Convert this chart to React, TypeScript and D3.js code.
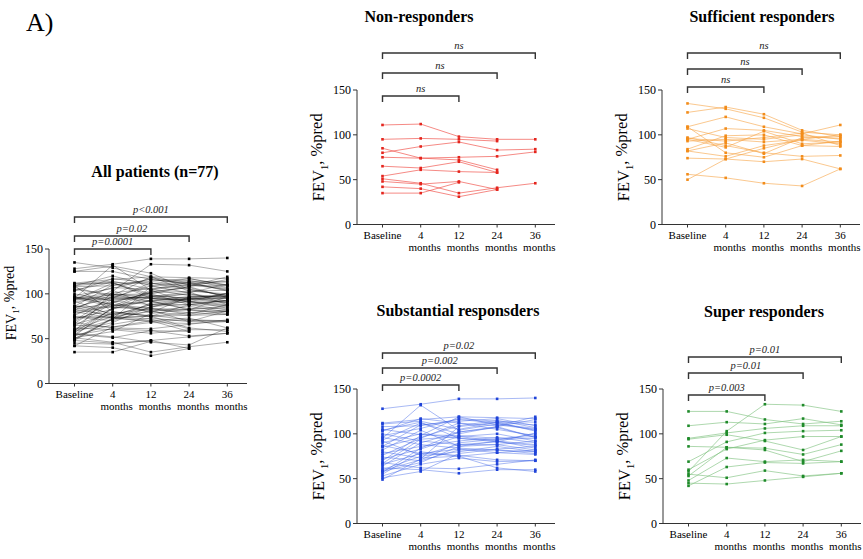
import React from 'react';
import * as d3 from 'd3';

// x categories and y ticks shared by every panel
const timepoints = ['Baseline', '4', '12', '24', '36'];
const yTicks = [0, 50, 100, 150];

// FEV1 %pred per patient: baseline, 4, 12, 24, 36 months (null = missing)
const nonResponders = [
  [111, 112, 98, 95, 95],
  [95, 96, 95, 93, null],
  [80, 87, 92, 83, 84],
  [85, 74, 72, 61, null],
  [75, 74, 75, 76, 81],
  [65, 63, 70, 58, null],
  [54, 61, 59, 58, null],
  [51, 46, 35, 41, 46],
  [48, 45, 48, 39, null],
  [42, 40, 31, 39, null],
  [35, 35, 47, null, null],
];

const sufficientResp = [
  [135, 129, 119, 103, 100],
  [125, 131, 123, 105, 98],
  [109, 120, 109, 101, 111],
  [107, 97, 95, 100, 95],
  [97, 88, 80, 76, 77],
  [95, 107, 105, 98, 96],
  [93, 95, 92, 95, 92],
  [96, 93, 97, 102, 88],
  [84, 99, 100, 88, 93],
  [82, 76, 88, 94, 90],
  [74, 73, 70, 73, 62],
  [56, 52, 46, 43, 62],
  [50, 73, 85, 95, 100],
  [109, 80, 75, 88, 87],
  [82, 91, 79, 97, 98],
  [95, 86, 104, 90, 92],
];

const substantialResp = [
  [128, 133, 139, 139, 140],
  [95, 132, 104, 111, 106],
  [112, 116, 119, 118, 117],
  [111, 114, 105, 113, 110],
  [108, 109, 116, 112, 104],
  [105, 99, 98, 95, 97],
  [103, 117, 112, 109, 119],
  [100, 92, 88, 91, 87],
  [98, 106, 117, 114, 113],
  [96, 88, 84, 82, 80],
  [93, 112, 100, 108, 96],
  [90, 100, 95, 93, 100],
  [87, 78, 76, 71, 70],
  [85, 96, 109, 115, 107],
  [82, 104, 86, 88, 82],
  [80, 73, 75, 62, 58],
  [78, 86, 92, 96, 90],
  [76, 95, 112, 105, 98],
  [74, 70, 82, 82, 78],
  [72, 83, 97, 92, 88],
  [70, 98, 119, 110, 105],
  [68, 62, 61, 66, 71],
  [66, 78, 83, 79, 82],
  [64, 90, 102, 107, 96],
  [62, 60, 56, 60, 60],
  [60, 75, 80, 86, 80],
  [59, 71, 90, 94, 95],
  [57, 84, 102, 108, 116],
  [55, 80, 75, 79, 77],
  [53, 66, 73, 69, 70],
  [51, 58, 78, 83, 86],
  [49, 72, 108, 113, 103],
  [104, 113, 95, 91, 101],
  [92, 76, 88, 88, 92],
  [67, 94, 97, 100, 92],
  [86, 110, 114, 117, 109],
  [58, 68, 86, 92, 84],
];

const superResp = [
  [125, 125, 116, 111, 114],
  [109, 113, 111, 117, 110],
  [95, 101, 106, 109, 109],
  [94, 99, 92, 82, 97],
  [86, 85, 84, 77, 88],
  [69, 91, 101, 103, 104],
  [60, 83, 93, 97, 97],
  [58, 103, 133, 132, 125],
  [53, 85, 82, 69, 81],
  [48, 73, 69, 71, 69],
  [42, 63, 68, 67, 69],
  [55, 51, 59, 53, 56],
  [45, 44, 48, 52, 56],
];

const allPatients = [...nonResponders, ...sufficientResp, ...substantialResp, ...superResp];

// comparisons vs baseline: 12, 24, 36 months
const pAll = ['p=0.0001', 'p=0.02', 'p<0.001'];
const pNon = ['ns', 'ns', 'ns'];
const pSufficient = ['ns', 'ns', 'ns'];
const pSubstantial = ['p=0.0002', 'p=0.002', 'p=0.02'];
const pSuper = ['p=0.003', 'p=0.01', 'p=0.01'];

const serif = '"Liberation Serif", "DejaVu Serif", serif';

function Panel({ x0, top, data, lineColor, dotColor, lineOpacity, title, titleX, titleY, pvals, bracketY, labelSize, labelY }) {
  const h = 134.5;
  const y = d3.scaleLinear().domain([0, 150]).range([top + h, top]);
  const x = d3.scalePoint().domain(timepoints).range([x0 + 25.5, x0 + 25.5 + 4 * 38.2]);
  const line = d3.line<number | null>()
    .defined(d => d != null)
    .x((d, i) => x(timepoints[i]) as number)
    .y(d => y(d as number));
  const yMid = labelY != null ? labelY : top + h / 2;

  return (
    <g>
      <text x={titleX} y={titleY} textAnchor="middle" fontFamily={serif} fontWeight="bold" fontSize={16}>{title}</text>

      {/* significance brackets */}
      {pvals.map((p, i) => {
        const xa = x(timepoints[0]) as number;
        const xb = x(timepoints[i + 2]) as number;
        const by = bracketY[i];
        return (
          <g key={i}>
            <path d={`M${xa},${by + 6}V${by}H${xb}V${by + 6}`} fill="none" stroke="#333" strokeWidth={1.4} />
            <text x={(xa + xb) / 2} y={by - 4} textAnchor="middle" fontFamily={serif} fontStyle="italic" fontSize={10.5} fill="#222">{p}</text>
          </g>
        );
      })}

      {/* patient trajectories */}
      {data.map((row, i) => (
        <path key={'l' + i} d={line(row) || ''} fill="none" stroke={lineColor} strokeOpacity={lineOpacity} strokeWidth={0.75} />
      ))}
      {data.map((row, i) => row.map((v, j) => v == null ? null : (
        <rect key={'d' + i + '-' + j} x={(x(timepoints[j]) as number) - 1.3} y={y(v) - 1.3} width={2.6} height={2.6} fill={dotColor} />
      )))}

      {/* y axis */}
      <line x1={x0} x2={x0} y1={y(0)} y2={y(150)} stroke="#333" strokeWidth={1} />
      {yTicks.map(t => (
        <g key={t}>
          <line x1={x0 - 4} x2={x0} y1={y(t)} y2={y(t)} stroke="#333" strokeWidth={1} />
          <text x={x0 - 6} y={y(t)} dy="0.35em" textAnchor="end" fontFamily={serif} fontSize={12}>{t}</text>
        </g>
      ))}
      <text transform={`translate(${x0 - 33},${yMid}) rotate(-90)`} textAnchor="middle" fontFamily={serif} fontSize={labelSize}>
        FEV<tspan fontSize={labelSize * 0.65} dy="0.35em">1</tspan><tspan dy="-0.35em">, %pred</tspan>
      </text>

      {/* x axis */}
      <line x1={x0} x2={x0 + 198} y1={y(0)} y2={y(0)} stroke="#333" strokeWidth={1} />
      {timepoints.map((t, i) => (
        <g key={t}>
          <line x1={x(t)} x2={x(t)} y1={y(0)} y2={y(0) + 3} stroke="#333" strokeWidth={1} />
          <text x={x(t)} y={y(0) + 14} textAnchor="middle" fontFamily={serif} fontSize={11}>{t}</text>
          {i > 0 && <text x={(x(t) as number) + 4} y={y(0) + 26} textAnchor="middle" fontFamily={serif} fontSize={11}>months</text>}
        </g>
      ))}
    </g>
  );
}

export default function App() {
  return (
    <svg width={863} height={559} style={{ display: 'block', position: 'absolute', left: 0, top: 0, background: '#fff' }}>
      <text x={26} y={31} fontFamily={serif} fontSize={26}>A)</text>

      <Panel x0={49} top={249} data={allPatients} lineColor="#000" dotColor="#000" lineOpacity={0.42}
        title="All patients (n=77)" titleX={155} titleY={177}
        pvals={pAll} bracketY={[249, 236, 217]} labelSize={14} labelY={303} />

      <Panel x0={357} top={90} data={nonResponders} lineColor="#f0473f" dotColor="#e4251d" lineOpacity={0.85}
        title="Non-responders" titleX={419} titleY={22}
        pvals={pNon} bracketY={[96, 73, 53]} labelSize={16.5} labelY={null} />

      <Panel x0={662} top={90} data={sufficientResp} lineColor="#f7a445" dotColor="#f28c1a" lineOpacity={0.8}
        title="Sufficient responders" titleX={762} titleY={22}
        pvals={pSufficient} bracketY={[87, 69, 53]} labelSize={16.5} labelY={null} />

      <Panel x0={357} top={389} data={substantialResp} lineColor="#3d63e6" dotColor="#1f43d8" lineOpacity={0.6}
        title="Substantial responsders" titleX={458} titleY={316}
        pvals={pSubstantial} bracketY={[385, 368, 353]} labelSize={16.5} labelY={null} />

      <Panel x0={663} top={389} data={superResp} lineColor="#7fc27f" dotColor="#1f8a2a" lineOpacity={0.85}
        title="Super responders" titleX={764} titleY={317}
        pvals={pSuper} bracketY={[395, 373, 357]} labelSize={16.5} labelY={null} />
    </svg>
  );
}
